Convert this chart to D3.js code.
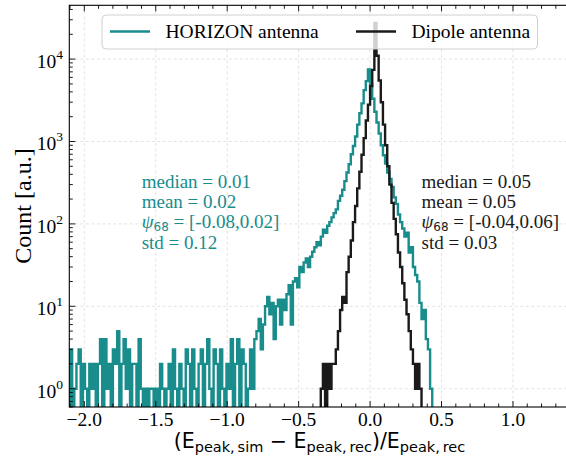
<!DOCTYPE html>
<html>
<head>
<meta charset="utf-8">
<script src="https://cdn.jsdelivr.net/npm/d3@7"></script>
<style>
	body { margin: 0; background: #fff; }
	svg { display: block; }
	text { font-family: "Liberation Serif", "Times New Roman", serif; }
</style>
</head>
<body>
<svg id="chart" width="566" height="456"></svg>
<script>
(function(d3) {
	'use strict';

	/** data */
	var binStart = -2.1, binWidth = 0.015;
	var horizonCounts = [
		3, 0, 1, 2, 3, 0, 2, 1, 0, 2,
		1, 2, 0, 2, 4, 0, 4, 1, 2, 0,
		3, 2, 5, 0, 2, 4, 1, 3, 0, 2,
		2, 0, 4, 1, 0, 1, 0, 1, 1, 0,
		1, 0, 2, 1, 0, 1, 2, 0, 3, 1,
		0, 2, 1, 0, 3, 2, 0, 3, 1, 0,
		2, 3, 0, 2, 4, 1, 0, 3, 2, 0,
		3, 1, 0, 2, 1, 4, 0, 2, 4, 0,
		3, 2, 0, 1, 3, 1, 4, 5, 7, 3,
		6, 10, 13, 8, 11, 4, 10, 12, 6, 12,
		9, 14, 18, 6, 20, 22, 17, 30, 26, 34,
		38, 30, 40, 46, 52, 60, 55, 70, 85, 78,
		95, 105, 120, 135, 150, 190, 220, 260, 330, 420,
		530, 700, 880, 1150, 1600, 2200, 2900, 4200, 5400, 7500,
		4900, 3300, 2300, 1700, 1250, 900, 680, 540, 420, 350,
		280, 210, 175, 130, 105, 88, 70, 78, 45, 52,
		30, 24, 20, 11, 7, 9, 4, 3, 1
	];
	var dipoleFirstBin = 117;
	var dipoleCounts = [
		1, 2, 0, 2, 1, 2, 2, 3, 5, 9,
		13, 11, 26, 40, 63, 105, 165, 270, 430, 690,
		1100, 1800, 2800, 4700, 7400, 27500, 11000, 5500, 3000, 1600,
		900, 500, 300, 180, 115, 75, 45, 30, 19, 12,
		8, 5, 3, 2, 1, 2, 1
	];

	var seriesNames = ['HORIZON antenna', 'Dipole antenna'];
	var seriesColors = ['#198c8c', '#1a1a1a'];
	var statNames = ['median', 'mean', 'psi', 'std'];
	var horizonStats = ['0.01', '0.02', '[-0.08,0.02]', '0.12'];
	var dipoleStats = ['0.05', '0.05', '[-0.04,0.06]', '0.03'];

	var xTicks = [-2.0, -1.5, -1.0, -0.5, 0.0, 0.5, 1.0];
	var yTicks = [1, 10, 100, 1000, 10000];
	var yTickExps = ['0', '1', '2', '3', '4'];

	/** layout */
	var svg = d3.select('#chart');
	var left = 69.3, right = 569.7, top = 5.3, bottom = 407;

	var x = d3.scaleLinear().domain([-2.105, 1.397]).range([left, right]);
	var y = d3.scaleLog().domain([0.5995, 44960]).range([bottom, top]);

	var yOrBelow = function(c) {
		return c > 0 ? y(c) : bottom + 40;
	};

	svg.append('rect').attr('width', 566).attr('height', 456).attr('fill', '#fff');

	svg.append('clipPath').attr('id', 'plot-clip').append('rect')
		.attr('x', left).attr('y', top).attr('width', right - left).attr('height', bottom - top);

	/** grid */
	var grid = svg.append('g').attr('stroke', '#dcdcdc').attr('stroke-width', 0.8).attr('stroke-dasharray', '3,2.5');
	grid.selectAll('line.gx').data(xTicks).enter().append('line')
		.attr('x1', x).attr('x2', x).attr('y1', top).attr('y2', bottom);
	grid.selectAll('line.gy').data(yTicks).enter().append('line')
		.attr('x1', left).attr('x2', right).attr('y1', y).attr('y2', y);

	/** histograms */
	var stepPoints = function(counts, firstBin) {
		var pts = [];
		var e0 = binStart + firstBin * binWidth;
		pts.push([x(e0), bottom + 40]);
		counts.forEach(function(c, i) {
			var e = binStart + (firstBin + i) * binWidth;
			pts.push([x(e), yOrBelow(c)]);
			pts.push([x(e + binWidth), yOrBelow(c)]);
		});
		pts.push([x(binStart + (firstBin + counts.length) * binWidth), bottom + 40]);
		return pts;
	};

	var plot = svg.append('g').attr('clip-path', 'url(#plot-clip)');
	var line = d3.line();
	plot.append('path').attr('d', line(stepPoints(horizonCounts, 0)))
		.attr('fill', 'none').attr('stroke', seriesColors[0]).attr('stroke-width', 2.4).attr('stroke-linejoin', 'miter');
	plot.append('path').attr('d', line(stepPoints(dipoleCounts, dipoleFirstBin)))
		.attr('fill', 'none').attr('stroke', seriesColors[1]).attr('stroke-width', 2.4).attr('stroke-linejoin', 'miter');

	/** spines and ticks */
	var axes = svg.append('g').attr('stroke', '#000').attr('stroke-width', 1.1);
	axes.append('rect').attr('x', left).attr('y', top).attr('width', right - left).attr('height', bottom - top).attr('fill', 'none');

	var xMinor = d3.range(-21, 14).map(function(k) { return k / 10; });
	xMinor.forEach(function(v) {
		var major = xTicks.some(function(t) { return Math.abs(t - v) < 1e-9; });
		var len = major ? 6 : 3.5;
		axes.append('line').attr('x1', x(v)).attr('x2', x(v)).attr('y1', bottom).attr('y2', bottom - len).attr('stroke-width', 0.9);
		axes.append('line').attr('x1', x(v)).attr('x2', x(v)).attr('y1', top).attr('y2', top + len).attr('stroke-width', 0.9);
	});
	var yDom = y.domain();
	for (var d = -1; d <= 4; d++) {
		for (var k = 1; k <= 9; k++) {
			var v = k * Math.pow(10, d);
			if (v < yDom[0] || v > yDom[1]) continue;
			var len = k === 1 ? 6 : 3.5;
			axes.append('line').attr('x1', left).attr('x2', left + len).attr('y1', y(v)).attr('y2', y(v)).attr('stroke-width', 0.9);
		}
	}

	/** tick labels */
	svg.selectAll('text.xtick').data(xTicks).enter().append('text')
		.attr('x', x).attr('y', 425.5).attr('text-anchor', 'middle').attr('font-size', 19.5)
		.text(function(t) { return d3.format('.1f')(t).replace('-', '\u2212'); });

	var ylab = svg.selectAll('text.ytick').data(yTicks).enter().append('text')
		.attr('x', 63).attr('y', function(t) { return y(t) + 9; }).attr('text-anchor', 'end').attr('font-size', 19.5);
	ylab.append('tspan').text('10');
	ylab.append('tspan').attr('font-size', 13.5).attr('dy', -9).text(function(t, i) { return yTickExps[i]; });

	/** axis labels */
	svg.append('text').attr('transform', 'translate(31,206) rotate(-90)').attr('text-anchor', 'middle')
		.attr('font-size', 24).text('Count [a.u.]');

	var xl = svg.append('text').attr('x', 319.5).attr('y', 448).attr('text-anchor', 'middle')
		.attr('font-size', 20.5).style('font-family', '"DejaVu Sans", sans-serif');
	var sub = function(txt) {
		xl.append('tspan').attr('font-size', 14.5).attr('dy', 4).text(txt);
	};
	var main = function(txt) {
		xl.append('tspan').attr('dy', -4).text(txt);
	};
	xl.append('tspan').text('(E');
	sub('peak,\u2009sim');
	main(' \u2212 E');
	sub('peak,\u2009rec');
	main(')/E');
	sub('peak,\u2009rec');

	/** statistics */
	var drawStats = function(values, xPos, color) {
		var g = svg.append('g').attr('fill', color).attr('font-size', 19);
		statNames.forEach(function(name, i) {
			var t = g.append('text').attr('x', xPos).attr('y', 188 + i * 20.2);
			if (name === 'psi') {
				t.append('tspan').attr('font-style', 'italic').text('\u03c8');
				t.append('tspan').attr('font-size', 12).attr('dy', 3).style('font-family', '"DejaVu Sans", sans-serif').text('68');
				t.append('tspan').attr('dy', -3).text(' = ' + values[i]);
			} else {
				t.text(name + ' = ' + values[i]);
			}
		});
	};
	drawStats(horizonStats, 141.7, seriesColors[0]);
	drawStats(dipoleStats, 421.5, seriesColors[1]);

	/** legend */
	var legend = svg.append('g');
	legend.append('rect').attr('x', 102).attr('y', 15).attr('width', 435.5).attr('height', 34).attr('rx', 4)
		.attr('fill', '#fff').attr('fill-opacity', 0.8).attr('stroke', '#d0d0d0').attr('stroke-width', 1);
	var legendX = [110, 356];
	seriesNames.forEach(function(name, i) {
		legend.append('line').attr('x1', legendX[i]).attr('x2', legendX[i] + 40).attr('y1', 31.5).attr('y2', 31.5)
			.attr('stroke', seriesColors[i]).attr('stroke-width', 2.4);
		legend.append('text').attr('x', legendX[i] + 55.5).attr('y', 38).attr('font-size', 19.5).attr('fill', '#000').text(name);
	});
})(d3);
</script>
</body>
</html>
